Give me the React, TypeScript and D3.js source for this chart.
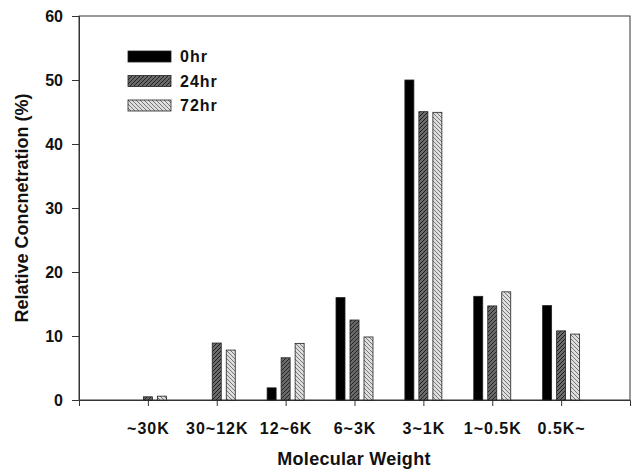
import { useRef, useEffect } from 'react'
import * as d3 from 'd3'

const categories = ['~30K', '30~12K', '12~6K', '6~3K', '3~1K', '1~0.5K', '0.5K~']
const series = ['0hr', '24hr', '72hr']
const hr0 = [0, 0, 1.9, 16.0, 50.0, 16.2, 14.75]
const hr24 = [0.5, 8.9, 6.6, 12.5, 45.05, 14.7, 10.8]
const hr72 = [0.6, 7.8, 8.85, 9.85, 44.95, 16.9, 10.3]
const yTicks = [0, 10, 20, 30, 40, 50, 60]

const fills = ['#000000', 'url(#hatch24)', 'url(#hatch72)']

export default function App() {
  const svgRef = useRef<SVGSVGElement>(null)

  useEffect(() => {
    if (!svgRef.current) return
    const width = 632
    const height = 474
    const left = 79
    const right = 630
    const top = 16
    const bottom = 400

    const svg = d3.select(svgRef.current)
    svg.selectAll('*').remove()
    svg.attr('width', width).attr('height', height)

    const defs = svg.append('defs')
    const p24 = defs
      .append('pattern')
      .attr('id', 'hatch24')
      .attr('patternUnits', 'userSpaceOnUse')
      .attr('width', 4)
      .attr('height', 4)
    p24.append('rect').attr('width', 4).attr('height', 4).attr('fill', '#6a6a6a')
    p24
      .append('path')
      .attr('d', 'M-1,1 l2,-2 M0,4 l4,-4 M3,5 l2,-2')
      .attr('stroke', '#222')
      .attr('stroke-width', 1)

    const p72 = defs
      .append('pattern')
      .attr('id', 'hatch72')
      .attr('patternUnits', 'userSpaceOnUse')
      .attr('width', 4)
      .attr('height', 4)
    p72.append('rect').attr('width', 4).attr('height', 4).attr('fill', '#dedede')
    p72
      .append('path')
      .attr('d', 'M-1,3 l2,2 M0,0 l4,4 M3,-1 l2,2')
      .attr('stroke', '#777')
      .attr('stroke-width', 1)

    const x = d3.scaleLinear().domain([0, categories.length + 1]).range([left, right])
    const y = d3.scaleLinear().domain([0, 60]).range([bottom, top])

    const font = 'Liberation Sans, Arial, sans-serif'
    const ink = '#111'

    // frame
    svg
      .append('rect')
      .attr('x', left)
      .attr('y', top)
      .attr('width', right - left)
      .attr('height', bottom - top)
      .attr('fill', 'none')
      .attr('stroke', '#333')
      .attr('stroke-width', 1)

    // Y axis
    const gy = svg
      .append('g')
      .attr('transform', `translate(${left},0)`)
      .call(d3.axisLeft(y).tickValues(yTicks).tickSize(7).tickPadding(9))
    gy.select('.domain').attr('stroke', '#333')
    gy.selectAll('line').attr('stroke', '#333')
    gy.selectAll('text')
      .attr('fill', ink)
      .attr('font-size', 16)
      .attr('font-weight', 'bold')
      .attr('font-family', font)

    // X axis
    const gx = svg
      .append('g')
      .attr('transform', `translate(0,${bottom})`)
      .call(
        d3
          .axisBottom(x)
          .tickValues(categories.map((_, i) => i + 1))
          .tickFormat((d) => categories[(d as number) - 1])
          .tickSize(6)
          .tickPadding(17)
      )
    gx.select('.domain').attr('stroke', '#333')
    gx.selectAll('line').attr('stroke', '#333')
    gx.selectAll('text')
      .attr('fill', ink)
      .attr('font-size', 16)
      .attr('letter-spacing', 1)
      .attr('font-weight', 'bold')
      .attr('font-family', font)

    // Bars
    const values = [hr0, hr24, hr72]
    const barW = 9
    const step = 14
    values.forEach((vals, s) => {
      const rows = vals.map((v, i) => ({ v, i })).filter((d) => d.v > 0)
      svg
        .append('g')
        .selectAll('rect')
        .data(rows)
        .join('rect')
        .attr('x', (d) => x(d.i + 1) + (s - 1) * step - barW / 2)
        .attr('y', (d) => y(d.v))
        .attr('width', barW)
        .attr('height', (d) => bottom - y(d.v))
        .attr('fill', fills[s])
        .attr('stroke', '#222')
        .attr('stroke-width', 0.8)
    })

    // Legend
    const lg = svg.append('g')
    series.forEach((name, i) => {
      const cy = 56.5 + i * 24.5
      lg.append('rect')
        .attr('x', 128)
        .attr('y', cy - 5.5)
        .attr('width', 43)
        .attr('height', 11)
        .attr('fill', fills[i])
        .attr('stroke', '#222')
        .attr('stroke-width', 0.8)
      lg.append('text')
        .attr('x', 180)
        .attr('y', cy + 5.8)
        .attr('fill', ink)
        .attr('font-size', 16)
        .attr('letter-spacing', 1)
        .attr('font-weight', 'bold')
        .attr('font-family', font)
        .text(name)
    })

    // Axis titles
    svg
      .append('text')
      .attr('x', 354)
      .attr('y', 465)
      .attr('text-anchor', 'middle')
      .attr('fill', ink)
      .attr('font-size', 18)
      .attr('letter-spacing', 0.3)
      .attr('font-weight', 'bold')
      .attr('font-family', font)
      .text('Molecular Weight')

    svg
      .append('text')
      .attr('transform', `translate(28,${(top + bottom) / 2}) rotate(-90)`)
      .attr('text-anchor', 'middle')
      .attr('fill', ink)
      .attr('font-size', 18)
      .attr('font-weight', 'bold')
      .attr('font-family', font)
      .text('Relative Concnetration (%)')
  }, [])

  return <svg ref={svgRef} style={{ position: 'absolute', left: 0, top: 0 }} />
}
